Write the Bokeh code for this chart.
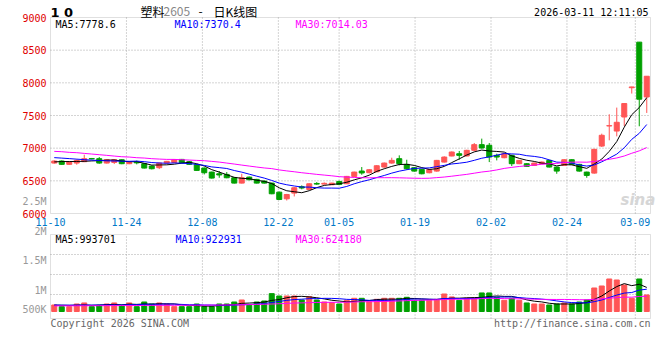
from bokeh.plotting import figure
from bokeh.models import Range1d, ColumnDataSource, Label, BoxAnnotation
from bokeh.embed import file_html
from bokeh.resources import INLINE

# ---------------- data ----------------
OPEN = [6772, 6803, 6752, 6772, 6793, 6842, 6839, 6772, 6782, 6823,
        6762, 6790, 6762, 6726, 6701, 6772, 6782, 6828, 6793, 6747,
        6695, 6634, 6608, 6598, 6547, 6465, 6557, 6522, 6496, 6465,
        6327, 6225, 6312, 6410, 6368, 6460, 6450, 6440, 6491, 6455,
        6568, 6650, 6624, 6639, 6711, 6772, 6839, 6752, 6701, 6675,
        6624, 6649, 6787, 6880, 6915, 6880, 6967, 7054, 7044, 6890,
        6854, 6890, 6762, 6762, 6736, 6762, 6813, 6711, 6736, 6823,
        6752, 6634, 6618, 7032, 7340, 7262, 7477, 7925, 8623, 7784]
HIGH = [6815, 6813, 6795, 6828, 6900, 6850, 6864, 6830, 6830, 6830,
        6795, 6810, 6770, 6735, 6780, 6805, 6830, 6835, 6800, 6755,
        6705, 6640, 6649, 6634, 6555, 6608, 6565, 6530, 6505, 6470,
        6335, 6300, 6404, 6430, 6462, 6480, 6475, 6470, 6500, 6575,
        6640, 6711, 6680, 6740, 6780, 6854, 6890, 6823, 6710, 6685,
        6680, 6820, 6875, 6950, 6957, 6975, 7079, 7146, 7079, 6915,
        6925, 6900, 6820, 6770, 6780, 6795, 6820, 6715, 6830, 6830,
        6760, 6640, 6990, 7222, 7519, 7621, 7690, 7940, 8623, 8101]
LOW = [6762, 6745, 6745, 6747, 6787, 6828, 6762, 6765, 6757, 6755,
       6755, 6752, 6690, 6675, 6680, 6765, 6775, 6770, 6745, 6655,
       6598, 6535, 6547, 6540, 6460, 6460, 6510, 6460, 6458, 6295,
       6205, 6199, 6261, 6370, 6360, 6440, 6445, 6435, 6440, 6450,
       6560, 6593, 6615, 6630, 6700, 6762, 6736, 6670, 6640, 6600,
       6615, 6640, 6780, 6875, 6823, 6875, 6952, 6992, 6787, 6813,
       6845, 6726, 6755, 6715, 6730, 6755, 6705, 6608, 6730, 6745,
       6640, 6547, 6610, 7017, 7120, 7181, 7339, 7836, 7335, 7539]
CLOSE = [6803, 6752, 6787, 6813, 6839, 6836, 6772, 6823, 6823, 6762,
         6787, 6775, 6695, 6685, 6772, 6798, 6823, 6777, 6752, 6660,
         6624, 6542, 6590, 6547, 6465, 6547, 6516, 6465, 6465, 6302,
         6215, 6291, 6394, 6390, 6455, 6450, 6462, 6465, 6445, 6568,
         6634, 6620, 6670, 6731, 6772, 6813, 6762, 6685, 6649, 6608,
         6670, 6813, 6864, 6941, 6890, 6967, 7054, 7003, 6864, 6864,
         6915, 6762, 6813, 6721, 6772, 6787, 6711, 6649, 6823, 6752,
         6649, 6583, 6982, 7197, 7345, 7396, 7683, 7937, 7749, 8101]
MA5 = [6790, 6795, 6795, 6797, 6799, 6805, 6809, 6817, 6819, 6803,
       6793, 6794, 6768, 6741, 6743, 6745, 6755, 6771, 6784, 6762,
       6727, 6671, 6634, 6593, 6554, 6538, 6533, 6508, 6492, 6459,
       6393, 6348, 6333, 6318, 6349, 6396, 6430, 6444, 6455, 6478,
       6515, 6546, 6587, 6645, 6685, 6721, 6750, 6753, 6736, 6703,
       6675, 6685, 6721, 6779, 6836, 6895, 6943, 6971, 6956, 6950,
       6940, 6882, 6844, 6815, 6797, 6771, 6761, 6728, 6748, 6744,
       6717, 6691, 6758, 6833, 6951, 7101, 7321, 7512, 7622, 7773]
MA10 = [6855, 6848, 6840, 6832, 6824, 6817, 6811, 6806, 6803, 6801,
        6799, 6802, 6793, 6780, 6773, 6769, 6774, 6770, 6763, 6752,
        6736, 6713, 6702, 6689, 6658, 6633, 6602, 6571, 6542, 6506,
        6465, 6440, 6421, 6405, 6404, 6394, 6389, 6389, 6387, 6414,
        6455, 6488, 6516, 6550, 6582, 6618, 6648, 6670, 6690, 6694,
        6698, 6717, 6737, 6758, 6770, 6785, 6814, 6846, 6867, 6893,
        6918, 6912, 6907, 6885, 6874, 6856, 6821, 6786, 6782, 6771,
        6744, 6726, 6743, 6791, 6848, 6909, 7006, 7135, 7227, 7362]
MA30 = [6951, 6946, 6936, 6931, 6920, 6910, 6900, 6890, 6879, 6869,
        6864, 6854, 6849, 6839, 6833, 6828, 6828, 6823, 6818, 6813,
        6808, 6798, 6787, 6772, 6757, 6741, 6726, 6711, 6697, 6687,
        6667, 6652, 6639, 6624, 6612, 6599, 6588, 6577, 6564, 6557,
        6552, 6547, 6546, 6548, 6548, 6548, 6546, 6543, 6540, 6538,
        6540, 6549, 6558, 6571, 6585, 6599, 6617, 6635, 6648, 6667,
        6690, 6706, 6720, 6731, 6742, 6753, 6761, 6767, 6780, 6786,
        6787, 6785, 6796, 6811, 6830, 6850, 6880, 6922, 6959, 7009]
# volume, thousands
VOL = [267, 199, 199, 308, 350, 199, 254, 308, 350, 254,
       350, 199, 390, 308, 350, 308, 199, 199, 199, 308,
       199, 199, 308, 308, 390, 472, 254, 390, 431, 732,
       636, 636, 636, 472, 609, 472, 390, 363, 308, 459,
       541, 541, 404, 500, 541, 541, 541, 582, 459, 459,
       459, 500, 718, 596, 459, 541, 541, 760, 760, 582,
       459, 541, 459, 350, 308, 308, 267, 308, 350, 308,
       390, 472, 964, 1046, 1333, 1292, 1087, 541, 1333, 678]
VMA5 = [260, 255, 250, 258, 265, 251, 262, 284, 292, 273,
        303, 292, 309, 300, 319, 311, 311, 273, 251, 243,
        221, 221, 243, 264, 281, 335, 346, 363, 387, 456,
        489, 565, 614, 622, 598, 565, 516, 461, 428, 398,
        412, 442, 451, 489, 505, 505, 505, 541, 533, 516,
        500, 492, 519, 546, 546, 563, 571, 579, 612, 637,
        620, 620, 560, 478, 423, 393, 338, 308, 308, 308,
        325, 366, 497, 636, 841, 1021, 1144, 1060, 1117, 986]
VMA10 = [265, 262, 260, 262, 265, 264, 266, 268, 268, 269,
         277, 277, 296, 296, 296, 307, 302, 291, 276, 281,
         266, 266, 258, 258, 262, 278, 284, 303, 326, 368,
         412, 456, 489, 505, 527, 527, 540, 538, 525, 498,
         489, 479, 456, 459, 452, 459, 474, 496, 511, 511,
         503, 499, 530, 540, 531, 531, 531, 549, 579, 592,
         592, 596, 570, 545, 530, 507, 479, 434, 393, 366,
         359, 352, 403, 472, 575, 673, 755, 778, 877, 914]
VMA30 = [230, 232, 233, 235, 236, 237, 238, 240, 242, 243,
         245, 246, 248, 250, 252, 253, 254, 255, 256, 258,
         260, 262, 265, 268, 272, 278, 283, 290, 298, 306,
         318, 333, 347, 353, 362, 371, 375, 377, 376, 382,
         389, 400, 401, 407, 413, 421, 433, 445, 454, 459,
         468, 478, 491, 501, 503, 506, 515, 528, 539, 534,
         528, 524, 519, 515, 504, 499, 495, 493, 494, 489,
         484, 482, 501, 519, 545, 570, 589, 587, 616, 624]

DATE_LABELS = ["11-10", "11-24", "12-08", "12-22", "01-05", "01-19", "02-02", "02-24", "03-09"]
DATE_INDEX = [0, 10, 20, 30, 38, 48, 58, 68, 77]
PRICE_TICKS = [6000, 6500, 7000, 7500, 8000, 8500, 9000]
VOL_TICK_LABELS = ["2.5M", "2M", "1.5M", "1M", "500K"]
TITLE_NAME = "塑料"
TITLE_CODE = "2605"
TITLE_REST = "日K线图"
TIMESTAMP = "2026-03-11 12:11:05"
PRICE_LEGEND = ["MA5:7778.6", "MA10:7370.4", "MA30:7014.03"]
VOL_LEGEND = ["MA5:993701", "MA10:922931", "MA30:624180"]

# ---------------- style / layout (pixels) ----------------
RED = "#ff5555"
GREEN = "#00a000"
MA_COLORS = ["#000000", "#0000ff", "#ff00ff"]
GRID = "#a8a8a8"
BORDER = "#999999"
MONO = "DejaVu Sans Mono"
W, H = 656, 336
PANEL_L, PANEL_R = 50, 650           # both panels, page x
MAIN_TOP, MAIN_BOT = 17, 213          # page y of 9000 / 6000
VOL_TOP, VOL_BOT, VOL_ZERO = 234, 318, 311
VPX = 41.0                            # thousand per pixel in the volume panel

N = len(CLOSE)
PXX = (PANEL_R - PANEL_L) / N         # px per slot
P_LO, P_HI = PRICE_TICKS[0], PRICE_TICKS[-1]
PPP = (P_HI - P_LO) / (MAIN_BOT - MAIN_TOP)   # price per px

x_range = Range1d(-PANEL_L / PXX, (W - PANEL_L) / PXX)
y_range = Range1d(P_LO - (H - MAIN_BOT) * PPP, P_LO + MAIN_BOT * PPP)
vol_range = Range1d(-(H - VOL_ZERO) * VPX, VOL_ZERO * VPX)

p = figure(width=W, height=H, x_range=x_range, y_range=y_range,
           output_backend="svg", toolbar_location=None,
           x_axis_location=None, y_axis_location=None, min_border=0)
p.extra_y_ranges = {"vol": vol_range}
p.outline_line_color = None
p.background_fill_color = "white"
p.border_fill_color = "white"
p.grid.visible = False

xs = [i + 0.5 for i in range(N)]
colors = [RED if c >= o else GREEN for o, c in zip(OPEN, CLOSE)]
src = ColumnDataSource(dict(
    x=xs, high=HIGH, low=LOW,
    top=[max(o, c) for o, c in zip(OPEN, CLOSE)],
    bottom=[min(o, c) for o, c in zip(OPEN, CLOSE)],
    color=colors, vol=VOL))

# grid scale of the original: n-1 intervals across the panel width
grid_x = [d * N / (N - 1) for d in DATE_INDEX]
v_top = (VOL_ZERO - VOL_TOP) * VPX
v_bot = (VOL_ZERO - VOL_BOT) * VPX

# ---- grid lines ----
gy = PRICE_TICKS[1:-1]
p.segment(x0=[0] * len(gy), x1=[N] * len(gy), y0=gy, y1=gy,
          line_color=GRID, line_dash="1 2", line_width=1)
gx = grid_x[1:]
p.segment(x0=gx, x1=gx, y0=[P_LO] * len(gx), y1=[P_HI] * len(gx),
          line_color=GRID, line_dash="1 2", line_width=1)
vgy = [v_top - k * 20 * VPX for k in (1, 2, 3)]
p.segment(x0=[0] * 3, x1=[N] * 3, y0=vgy, y1=vgy, y_range_name="vol",
          line_color=GRID, line_dash="1 2", line_width=1)
p.segment(x0=gx, x1=gx, y0=[v_bot] * len(gx), y1=[v_top] * len(gx), y_range_name="vol",
          line_color=GRID, line_dash="1 2", line_width=1)

# ---- candles ----
p.segment(x0="x", y0="low", x1="x", y1="high", line_color="color", line_width=1, source=src)
p.vbar(x="x", width=0.667, top="top", bottom="bottom", fill_color="color",
       line_color="color", line_width=1, source=src)
for ser, col in zip([MA5, MA10, MA30], MA_COLORS):
    p.line(xs, ser, line_color=col, line_width=1)

# ---- volume ----
p.vbar(x="x", width=0.667, top="vol", bottom=0, fill_color="color",
       line_color="color", line_width=1, source=src, y_range_name="vol")
for ser, col in zip([VMA5, VMA10, VMA30], MA_COLORS):
    p.line(xs, ser, line_color=col, line_width=1, y_range_name="vol")

# ---- panel borders ----
p.add_layout(BoxAnnotation(left=0, right=N, bottom=P_LO, top=P_HI,
                           fill_color=None, line_color=BORDER, line_width=1))
p.add_layout(BoxAnnotation(left=0, right=N, bottom=v_bot, top=v_top, y_range_name="vol",
                           fill_color=None, line_color=BORDER, line_width=1))


# ---- texts ----
def lab(px, py, text, **kw):
    opts = dict(x=px, y=H - py, x_units="screen", y_units="screen", text=text,
                text_font=MONO, text_font_size="10px", text_color="#000000",
                text_align="left", text_baseline="middle")
    opts.update(kw)
    p.add_layout(Label(**opts))


lab(50, 12, "1 0", text_font="DejaVu Sans", text_font_style="bold", text_font_size="13px")
lab(140, 11, TITLE_NAME, text_font="Noto Sans CJK SC", text_font_size="12px")
lab(163, 11, TITLE_CODE, text_font="Noto Sans CJK SC", text_font_size="12px", text_color="#888888")
lab(198, 11, "-", text_font="Noto Sans CJK SC", text_font_size="12px")
lab(213, 11, TITLE_REST, text_font="Noto Sans CJK SC", text_font_size="12px")
lab(648, 12, TIMESTAMP, text_align="right")
for lx, txt, col in zip([55, 174, 295], PRICE_LEGEND, MA_COLORS):
    lab(lx, 24, txt, text_color=col)
for t in PRICE_TICKS:
    p.add_layout(Label(x=46, y=t, x_units="screen", y_units="data", text=str(t),
                       text_font=MONO, text_font_size="10px", text_color="#e00000",
                       text_align="right", text_baseline="middle"))
for gxx, txt in zip(grid_x, DATE_LABELS):
    p.add_layout(Label(x=gxx, y=H - 221.5, x_units="data", y_units="screen", text=txt,
                       text_font=MONO, text_font_size="10px", text_color="#0078c8",
                       text_align="center", text_baseline="middle"))
lab(620, 199, "sina", text_font="DejaVu Sans", text_font_style="bold italic",
    text_font_size="15px", text_color="#d6d6d6")
for yy, txt in zip([201, 230.5, 260, 290, 309], VOL_TICK_LABELS):
    lab(46, yy, txt, text_align="right", text_color="#999999")
for lx, txt, col in zip([55, 175, 295], VOL_LEGEND, MA_COLORS):
    lab(lx, 238.5, txt, text_color=col)
lab(50, 323, "Copyright 2026 SINA.COM", text_color="#666666")
lab(650, 323, "http://finance.sina.com.cn", text_align="right", text_color="#666666")

open("out.html", "w").write(file_html(p, INLINE))
